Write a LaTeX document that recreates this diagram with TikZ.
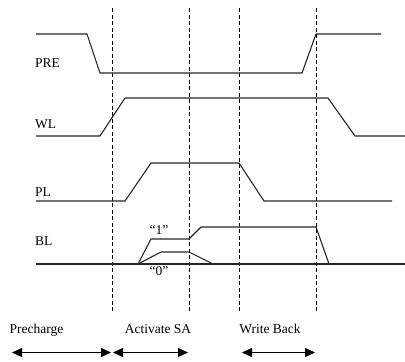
\documentclass[tikz,border=0pt]{standalone}
\usepackage{fontspec}
\setmainfont{Liberation Serif}
\usetikzlibrary{arrows.meta}
\tikzset{
  signal/.style={line width=1.1pt, black!85},
  marker/.style={line width=0.8pt, dash pattern=on 4pt off 2.5pt},
  siglabel/.style={anchor=west, inner sep=0pt, font=\fontsize{13.5}{15}\selectfont},
  phase/.style={inner sep=0pt, font=\fontsize{13.5}{15}\selectfont},
  span/.style={{Triangle[length=10pt,width=9pt]}-{Triangle[length=10pt,width=9pt]}, line width=1.1pt}
}

\begin{document}
\begin{tikzpicture}[x=1pt, y=-1pt]
        \useasboundingbox (0,0) rectangle (405,362);

        % phase boundaries
        \foreach \t in {112, 189, 239, 316}
            \draw[marker] (\t,8) -- (\t,313);

        % signal names
        \node[siglabel] (pre) at (35,63) {PRE};
        \node[siglabel] (wl)  at (35,124.5) {WL};
        \node[siglabel] (pl)  at (35,192.5) {PL};
        \node[siglabel] (bl)  at (35,241) {BL};

        % waveforms
        \draw[signal] (36,34) -- (87,34) -- (100,73) -- (302,73) -- (316,34) -- (381,34);
        \draw[signal] (36,136) -- (100,136) -- (125,98) -- (328,98) -- (355,136) -- (405,136);
        \draw[signal] (36,201) -- (125,201) -- (151,163) -- (239,163) -- (264,201) -- (392,201);
        \draw[signal] (36,264) -- (405,264);
        \draw[signal] (138,264) -- (151,239) -- (189,239) -- (201,227) -- (316,227) -- (329,264);
        \draw[signal] (138,264) -- (161,252) -- (189,252) -- (213,264);
        \node[phase] (one)  at (159,230) {``1''};
        \node[phase] (zero) at (159,271) {``0''};

        % phases
        \node[phase, anchor=base] (prech) at (36.5,333) {Precharge};
        \node[phase, anchor=base] (actsa) at (158,333) {Activate SA};
        \node[phase, anchor=base] (wrbk)  at (270,333) {Write Back};
        \coordinate (a0) at (12,352.5);
        \coordinate (a1) at (111,352.5);
        \coordinate (b0) at (113,352.5);
        \coordinate (b1) at (188,352.5);
        \coordinate (c0) at (242,352.5);
        \coordinate (c1) at (315,352.5);
        \draw[span] (a0) -- (a1);
        \draw[span] (b0) -- (b1);
        \draw[span] (c0) -- (c1);
\end{tikzpicture}
\end{document}
